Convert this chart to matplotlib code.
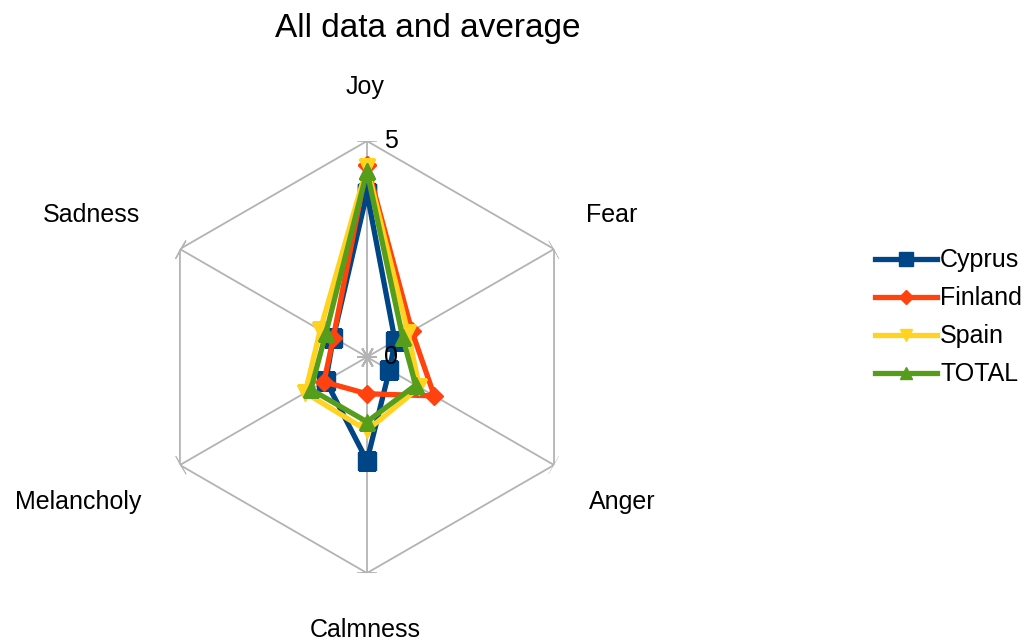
import numpy as np
import matplotlib
matplotlib.use('Agg')
import matplotlib.pyplot as plt

plt.rcParams['font.family'] = ['Liberation Sans', 'DejaVu Sans']

# data
categories = ['Joy', 'Fear', 'Anger', 'Calmness', 'Melancholy', 'Sadness']
cyprus = [3.8, 0.75, 0.6, 2.4, 1.1, 0.9]
finland = [4.45, 1.2, 1.8, 0.85, 1.15, 0.9]
spain = [4.4, 1.1, 1.4, 1.7, 1.65, 1.25]
total = [4.3, 0.95, 1.3, 1.5, 1.5, 1.1]
series_names = ['Cyprus', 'Finland', 'Spain', 'TOTAL']
rmax = 5

series = [cyprus, finland, spain, total]
colors = ['#004586', '#ff420e', '#ffd320', '#579d1c']
markers = ['s', 'D', 'v', '^']
msizes = [13, 9, 12, 12]

fig = plt.figure(figsize=(10.30, 6.41), dpi=100)
ax = fig.add_axes([0.1466, 0.106, 0.4194, 0.674], projection='polar')
ax.set_theta_offset(np.pi / 2)
ax.set_theta_direction(-1)
ax.set_ylim(0, rmax)
ax.axis('off')

n = len(categories)
theta = np.linspace(0, 2 * np.pi, n, endpoint=False)
theta_c = np.append(theta, theta[0])

grid = '#b3b3b3'
# outer hexagon and spokes
ax.plot(theta_c, [rmax] * (n + 1), color=grid, lw=1.3, zorder=1)
for t in theta:
    ax.plot([t, t], [0, rmax], color=grid, lw=1.3, zorder=1)
    a = 90 - np.degrees(t)
    ax.plot([t, t], [0, rmax], ls='none', marker=(2, 2, a), ms=15,
            mec=grid, mew=1.3, zorder=1)

# series
for vals, name, c, m, ms in zip(series, series_names, colors, markers, msizes):
    v = np.append(vals, vals[0])
    ax.plot(theta_c, v, color=c, lw=3.8, marker=m, ms=ms, mfc=c, mec=c,
            label=name, zorder=3)

# category labels
offsets = [(-2, 54), (58, 34), (68, -37), (-2, -57), (-102, -37), (-88, 34)]
for t, lab, off in zip(theta, categories, offsets):
    ax.annotate(lab, xy=(t, rmax), xytext=off, textcoords='offset pixels',
                ha='center', va='center', fontsize=18, color='#000000',
                annotation_clip=False)

# radial scale labels
ax.annotate('0', xy=(0, 0), xytext=(17, 0), textcoords='offset pixels',
            ha='left', va='center', fontsize=18, annotation_clip=False)
ax.annotate('5', xy=(0, rmax), xytext=(17, 0), textcoords='offset pixels',
            ha='left', va='center', fontsize=18, annotation_clip=False)

fig.text(0.415, 0.955, 'All data and average', ha='center', va='center',
         fontsize=24)

fig.legend(loc='center left', bbox_to_anchor=(0.837, 0.505), frameon=False,
           fontsize=18, handlelength=2.5, handletextpad=0.12,
           labelspacing=0.56, borderpad=0, markerscale=0.75)

fig.savefig('out.png', dpi=100)
